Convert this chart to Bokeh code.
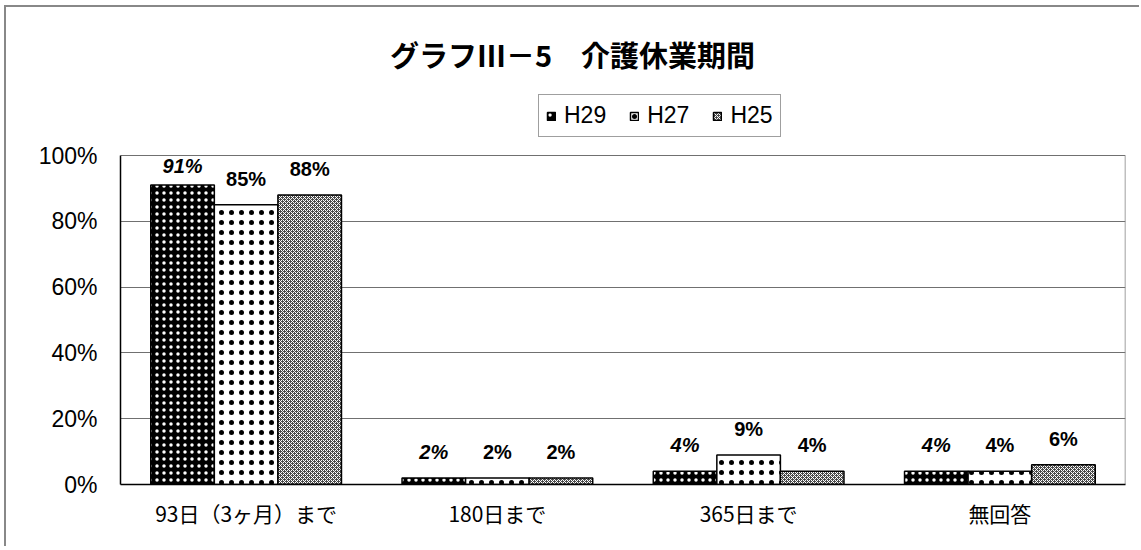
from bokeh.plotting import figure
from bokeh.models import (ColumnDataSource, FactorRange, Range1d, LabelSet, Label,
                          Legend, LegendItem, NumeralTickFormatter, FixedTicker)
from bokeh.transform import dodge
from bokeh.core.properties import value
from bokeh.embed import file_html
from bokeh.resources import INLINE

categories = ["93日（3ヶ月）まで", "180日まで", "365日まで", "無回答"]
series = ["H29", "H27", "H25"]
h29 = [0.91, 0.02, 0.04, 0.04]
h27 = [0.85, 0.02, 0.09, 0.04]
h25 = [0.88, 0.02, 0.04, 0.06]
y_ticks = [0, 0.2, 0.4, 0.6, 0.8, 1.0]
title_text = "グラフⅢ－5　介護休業期間"

def pct(vals):
    return [f"{round(v * 100)}%" for v in vals]

def label_y(vals):
    # keep labels of tall bars inside the plot area (as the original does)
    return [min(v, 0.89) for v in vals]

src = ColumnDataSource(dict(cat=categories, H29=h29, H27=h27, H25=h25,
                            L29=pct(h29), L27=pct(h27), L25=pct(h25),
                            Y29=label_y(h29), Y27=label_y(h27), Y25=label_y(h25)))

# frame extends above 100% up to the top so that legend and title sit inside it
plot_px = 329.0   # height of the 0..100% area
top_px = 477.0    # frame height
p = figure(width=1135, height=541, x_range=FactorRange(*categories, range_padding=0),
           y_range=Range1d(0, top_px / plot_px), output_backend="svg", toolbar_location=None,
           min_border_left=114, min_border_right=16, min_border_top=0, min_border_bottom=64)
p.styles = {"margin-left": "4px", "margin-top": "5px",
            "border-left": "2px solid #888888", "border-top": "2px solid #888888"}

bw = 0.253
styles = [
    dict(fill_color="black", hatch_pattern="dot", hatch_color="white", hatch_scale=7, hatch_weight=1.5),
    dict(fill_color="white", hatch_pattern="dot", hatch_color="black", hatch_scale=10, hatch_weight=0.9),
    dict(fill_color="#4a4a4a", hatch_pattern="diagonal_cross", hatch_color="white", hatch_scale=4, hatch_weight=1.0),
]
renderers = []
for i, (s, st) in enumerate(zip(series, styles)):
    off = (i - 1) * bw
    r = p.vbar(x=dodge("cat", off, range=p.x_range), top=s, width=bw, source=src,
               line_color="black", line_width=1.5, **st)
    renderers.append(r)
    lab = LabelSet(x=dodge("cat", off, range=p.x_range), y="Y" + s[1:], text="L" + s[1:], source=src,
                   text_align="center", text_baseline="alphabetic", y_offset=19,
                   text_font=value("Liberation Sans"), text_font_size="20px",
                   text_font_style="bold italic" if i == 0 else "bold", text_color="black")
    p.add_layout(lab)

# right border of the plot area
n = len(categories)
p.segment(x0=[n], y0=[0], x1=[n], y1=[1], line_color="#808080", line_width=1.5)

legend = Legend(items=[LegendItem(label=s, renderers=[r]) for s, r in zip(series, renderers)],
                orientation="horizontal", location=(418, 347),
                label_text_font="Liberation Sans", label_text_font_size="23px",
                label_text_color="black",
                glyph_width=10, glyph_height=10, label_standoff=8, spacing=23,
                padding=7, margin=0, label_height=20,
                border_line_color="#404040", border_line_width=1.5, background_fill_alpha=1)
p.add_layout(legend, "center")

p.add_layout(Label(x=452, y=431, x_units="screen", y_units="screen", text=title_text,
                   text_align="center", text_baseline="middle", text_color="black",
                   text_font="Noto Sans CJK JP", text_font_size="29px",
                   text_font_style="bold"))

p.yaxis.ticker = FixedTicker(ticks=y_ticks)
p.yaxis.bounds = (0, 1)
p.yaxis.formatter = NumeralTickFormatter(format="0%")
p.yaxis.major_label_text_font = "Liberation Sans"
p.yaxis.major_label_text_font_size = "23px"
p.yaxis.major_label_text_color = "black"
p.yaxis.major_label_standoff = 17
p.yaxis.major_tick_line_color = None
p.yaxis.minor_tick_line_color = None
p.yaxis.axis_line_color = "black"
p.yaxis.axis_line_width = 1.5

p.xaxis.major_label_text_font = "Noto Sans CJK JP"
p.xaxis.major_label_text_font_size = "21px"
p.xaxis.major_label_text_color = "black"
p.xaxis.major_label_standoff = 7
p.xaxis.major_tick_line_color = None
p.xaxis.axis_line_color = "black"
p.xaxis.axis_line_width = 1.5

p.xgrid.grid_line_color = None
p.ygrid.grid_line_color = "#707070"
p.ygrid.grid_line_width = 1.2
p.outline_line_color = None

open("out.html", "w").write(file_html(p, INLINE))
